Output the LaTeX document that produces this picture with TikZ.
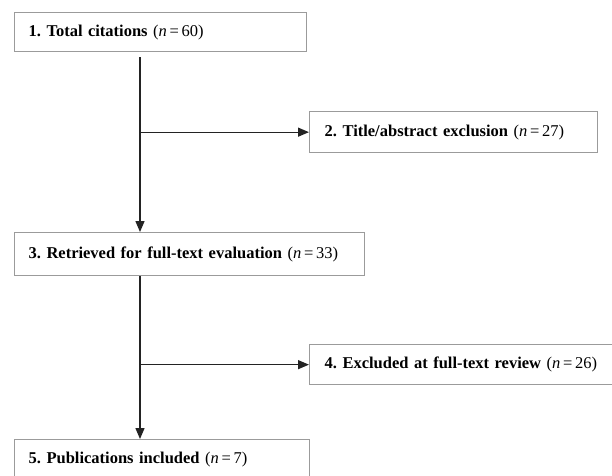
\documentclass[tikz,border=0pt]{standalone}
\usepackage{fontspec}
\setmainfont{Liberation Serif}
\usetikzlibrary{positioning, arrows.meta}
\definecolor{boxline}{RGB}{155,155,155}
\definecolor{flowline}{RGB}{35,35,35}
\frenchspacing
\newcommand{\ncount}[1]{(\textit{n}\,=\,#1)}

\begin{document}
\begin{tikzpicture}[x=1pt, y=-1pt,
    stagebox/.style={draw=boxline, line width=1.3pt, anchor=north west, inner xsep=14pt, inner ysep=0pt, align=left, text width=#1, font=\fontsize{16.5}{20}\selectfont},
    flow/.style={draw=flowline, line width=1.3pt},
    flowarrow/.style={flow, -{Triangle[length=11pt, width=9pt]}}]
    \clip (0,0) rectangle (612,475);

    % Etapes
    \node[stagebox=264pt, minimum height=39pt] (b1) at (14,12) {\textbf{1. Total citations} \ncount{60}};
    \node[stagebox=258pt, inner xsep=15pt, minimum height=41pt] (b2) at (309,111) {\textbf{2. Title/abstract exclusion} \ncount{27}};
    \node[stagebox=322pt, minimum height=43pt] (b3) at (14,232) {\textbf{3. Retrieved for full-text evaluation} \ncount{33}};
    \node[stagebox=290pt, inner xsep=15pt, minimum height=40pt] (b4) at (309,344) {\textbf{4. Excluded at full-text review} \ncount{26}};
    \node[stagebox=267pt, minimum height=40pt] (b5) at (14,439) {\textbf{5. Publications included} \ncount{7}};

    % Tronc vertical
    \coordinate (trunk) at (140,57);

    % Fleches
    \draw[flowarrow] (trunk) -- (trunk |- b3.north);
    \draw[flowarrow] (trunk |- b2.west) -- (b2.west);
    \draw[flowarrow] (trunk |- b3.south) -- (trunk |- b5.north);
    \draw[flowarrow] (trunk |- b4.west) -- (b4.west);
\end{tikzpicture}
\end{document}
